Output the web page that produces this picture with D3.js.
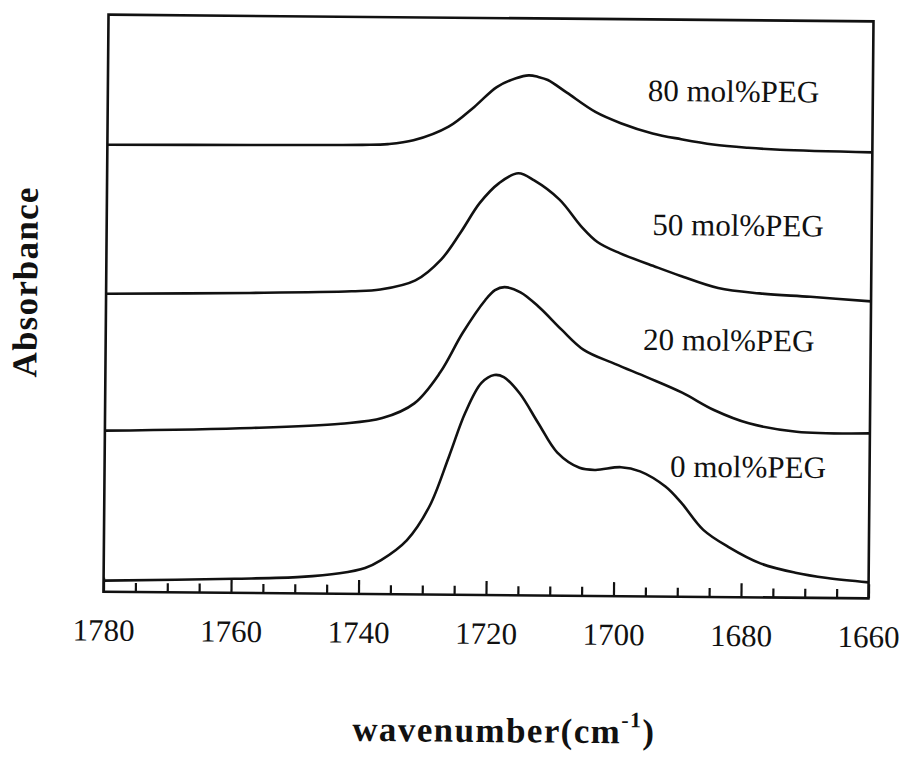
<!DOCTYPE html>
<html>
<head>
<meta charset="utf-8">
<script src="https://cdn.jsdelivr.net/npm/d3@7"></script>
<style>
  html, body { margin: 0; padding: 0; background: #fff; }
  svg { display: block; }
  text { font-family: "Liberation Serif", "Times New Roman", serif; fill: #111; }
</style>
</head>
<body>
<svg id="chart" width="906" height="757"></svg>
<script>
// FTIR carbonyl region: wavenumber (cm-1) and offset absorbance (a.u.) per PEG content
const wn80  = [1780, 1757.5, 1740, 1736, 1732, 1726.5, 1722.5, 1719, 1716, 1714, 1712.5, 1711, 1708, 1703.5, 1699.5, 1694.5, 1690, 1685, 1679.5, 1674.5, 1660];
const abs80 = [4.47, 4.48, 4.49, 4.50, 4.54, 4.68, 4.88, 5.08, 5.17, 5.20, 5.185, 5.155, 5.03, 4.84, 4.73, 4.63, 4.575, 4.525, 4.495, 4.478, 4.46];

const wn50  = [1780, 1757.5, 1741.5, 1737, 1731.5, 1727.5, 1724.5, 1721.5, 1718.5, 1715.5, 1713, 1709, 1705.5, 1703, 1699.5, 1694, 1690, 1684, 1677.5, 1669.5, 1660];
const abs50 = [2.98, 3.00, 3.025, 3.045, 3.14, 3.35, 3.62, 3.92, 4.12, 4.22, 4.15, 3.96, 3.69, 3.54, 3.43, 3.30, 3.21, 3.09, 3.04, 3.01, 2.97];

const wn20  = [1780, 1757, 1743, 1736.5, 1731.5, 1727.5, 1724, 1720.5, 1719, 1717.5, 1715, 1712, 1708.5, 1705, 1700, 1695, 1689.5, 1684.5, 1679, 1671.5, 1660];
const abs20 = [1.61, 1.65, 1.70, 1.76, 1.91, 2.22, 2.62, 2.95, 3.05, 3.08, 3.03, 2.88, 2.66, 2.46, 2.32, 2.19, 2.04, 1.87, 1.74, 1.66, 1.65];

const wn0   = [1780, 1759.5, 1749, 1743, 1739, 1736.5, 1732.5, 1729, 1726, 1723.5, 1721, 1719, 1717.5, 1715, 1712, 1709, 1705.5, 1703, 1699, 1696, 1692, 1689.5, 1686, 1682, 1677, 1671.5, 1666.5, 1660];
const abs0  = [0.11, 0.14, 0.165, 0.205, 0.26, 0.34, 0.54, 0.88, 1.38, 1.82, 2.12, 2.20, 2.18, 2.02, 1.72, 1.43, 1.28, 1.26, 1.29, 1.25, 1.10, 0.94, 0.67, 0.50, 0.34, 0.25, 0.20, 0.16];

const seriesNames = ["80 mol%PEG", "50 mol%PEG", "20 mol%PEG", "0 mol%PEG"];
const majorTicks = [1780, 1760, 1740, 1720, 1700, 1680, 1660];
const minorTicks = [1775, 1770, 1765, 1755, 1750, 1745, 1735, 1730, 1725, 1715, 1710, 1705,
                    1695, 1690, 1685, 1675, 1670, 1665];

const series = [
  { name: seriesNames[0], wn: wn80, abs: abs80 },
  { name: seriesNames[1], wn: wn50, abs: abs50 },
  { name: seriesNames[2], wn: wn20, abs: abs20 },
  { name: seriesNames[3], wn: wn0,  abs: abs0 }
];

const svg = d3.select("#chart");
const plot = { left: 106, right: 871, top: 18, bottom: 595 };

// the whole figure sits very slightly tilted on the page
const root = svg.append("g").attr("transform", "rotate(0.5, 487, 305)");

const x = d3.scaleLinear().domain([1780, 1660]).range([plot.left, plot.right]);
const y = d3.scaleLinear().domain([0, 5.77]).range([plot.bottom, plot.top]);

// frame
root.append("rect")
  .attr("x", plot.left).attr("y", plot.top)
  .attr("width", plot.right - plot.left).attr("height", plot.bottom - plot.top)
  .attr("fill", "none").attr("stroke", "#111").attr("stroke-width", 2.6);

// inward ticks on the wavenumber axis
const minorAxis = d3.axisBottom(x).tickValues(minorTicks).tickSize(-9).tickFormat("");
const majorAxis = d3.axisBottom(x).tickValues(majorTicks).tickSize(-14).tickPadding(27)
  .tickFormat(d3.format("d"));

const gMinor = root.append("g").attr("transform", `translate(0,${plot.bottom})`).call(minorAxis);
const gMajor = root.append("g").attr("transform", `translate(0,${plot.bottom})`).call(majorAxis);
[gMinor, gMajor].forEach(g => {
  g.select(".domain").remove();
  g.selectAll(".tick line").attr("stroke", "#111").attr("stroke-width", 2.2);
});
gMajor.selectAll(".tick text")
  .style("font-family", "'Liberation Serif', 'Times New Roman', serif")
  .attr("font-size", 31).attr("fill", "#111");

// spectra
const line = d3.line()
  .x(d => x(d[0]))
  .y(d => y(d[1]))
  .curve(d3.curveCatmullRom.alpha(0.5));

root.selectAll("path.spectrum")
  .data(series)
  .join("path")
  .attr("class", "spectrum")
  .attr("d", s => line(s.wn.map((w, i) => [w, s.abs[i]])))
  .attr("fill", "none")
  .attr("stroke", "#111")
  .attr("stroke-width", 2.6)
  .attr("stroke-linejoin", "round");

// series labels
const labelAt = [
  { wn: 1695.3, a: 4.954 },
  { wn: 1694.4, a: 3.614 },
  { wn: 1695.7, a: 2.464 },
  { wn: 1691.3, a: 1.199 }
];
root.selectAll("text.series-label")
  .data(series)
  .join("text")
  .attr("class", "series-label")
  .attr("x", (s, i) => x(labelAt[i].wn))
  .attr("y", (s, i) => y(labelAt[i].a))
  .attr("font-size", 31)
  .text(s => s.name);

// axis titles
root.append("text")
  .attr("transform", "translate(37,286) rotate(-90)")
  .attr("text-anchor", "middle")
  .attr("font-size", 35)
  .attr("font-weight", "bold")
  .attr("letter-spacing", 1.2)
  .text("Absorbance");

const xt = root.append("text")
  .attr("x", 356).attr("y", 742)
  .attr("font-size", 35)
  .attr("font-weight", "bold")
  .attr("letter-spacing", 1.4);
xt.append("tspan").text("wavenumber(cm");
xt.append("tspan").attr("dy", -16).attr("font-size", 22).text("-1");
xt.append("tspan").attr("dy", 16).text(")");
</script>
</body>
</html>
